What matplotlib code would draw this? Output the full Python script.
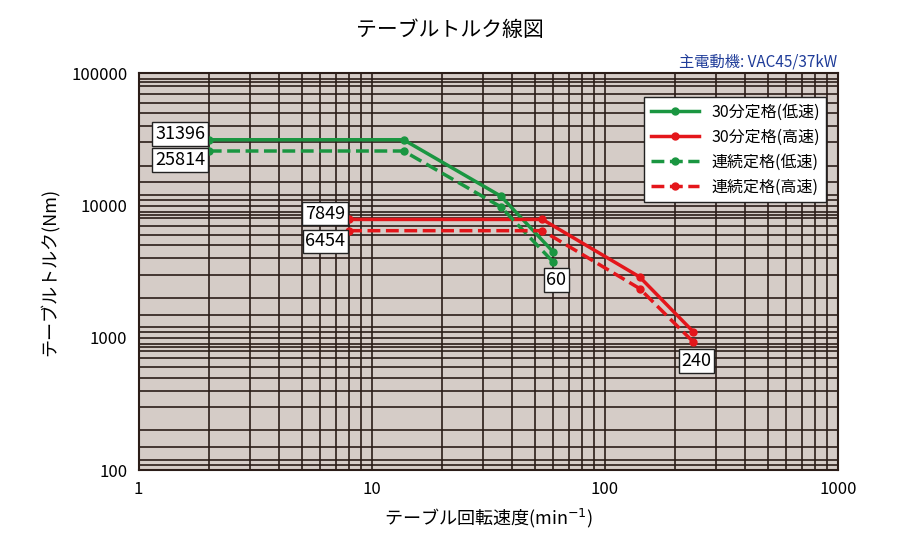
import matplotlib.pyplot as plt
from matplotlib.ticker import LogLocator, FixedLocator, NullFormatter

plt.rcParams['font.family'] = 'Noto Sans CJK JP'

# 低速
low_x = [2, 13.7, 35.8, 60]
low_30 = [31396, 31396, 11780, 4470]
low_cont = [25814, 25814, 9770, 3750]
# 高速
high_x = [8, 54, 141, 240]
high_30 = [7849, 7849, 2890, 1110]
high_cont = [6454, 6454, 2360, 930]

green = '#1a9641'
red = '#e4161b'

fig = plt.figure(figsize=(9, 5.5), dpi=100)
ax = fig.add_axes([0.154, 0.145, 0.777, 0.722])
ax.set_facecolor('#d5ccc7')
ax.set_xscale('log')
ax.set_yscale('log')
ax.set_xlim(1, 1000)
ax.set_ylim(100, 100000)

ax.xaxis.set_minor_locator(LogLocator(base=10, subs=range(2, 10)))
ax.yaxis.set_minor_locator(LogLocator(base=10, subs=[1.1, 1.2, 1.5, 2, 3, 4, 5, 6, 7, 8, 8.5, 9]))
ax.xaxis.set_minor_formatter(NullFormatter())
ax.yaxis.set_minor_formatter(NullFormatter())
ax.grid(True, which='both', color='#2b1d18', lw=1.2)
ax.set_axisbelow(True)
ax.tick_params(which='both', length=0, labelsize=12, pad=8)
ax.xaxis.set_major_locator(FixedLocator([1, 10, 100, 1000]))
ax.yaxis.set_major_locator(FixedLocator([100, 1000, 10000, 100000]))
ax.set_xticklabels(['1', '10', '100', '1000'])
ax.set_yticklabels(['100', '1000', '10000', '100000'])
for s in ax.spines.values():
    s.set_color('#2b1d18')
    s.set_linewidth(1.5)

ax.plot(low_x, low_30, '-o', color=green, lw=2.5, ms=5, label='30分定格(低速)')
ax.plot(high_x, high_30, '-o', color=red, lw=2.5, ms=5, label='30分定格(高速)')
ax.plot(low_x, low_cont, '--o', color=green, lw=2.5, ms=5, label='連続定格(低速)')
ax.plot(high_x, high_cont, '--o', color=red, lw=2.5, ms=5, label='連続定格(高速)')

box = dict(boxstyle='square,pad=0.15', fc='white', ec='#222222', lw=1)
ax.text(1.93, 34700, str(low_30[0]), ha='right', va='center', fontsize=13, bbox=box)
ax.text(1.93, 22000, str(low_cont[0]), ha='right', va='center', fontsize=13, bbox=box)
ax.text(7.7, 8700, str(high_30[0]), ha='right', va='center', fontsize=13, bbox=box)
ax.text(7.7, 5350, str(high_cont[0]), ha='right', va='center', fontsize=13, bbox=box)
ax.text(62, 2730, str(low_x[-1]), ha='center', va='center', fontsize=13, bbox=box)
ax.text(248, 667, str(high_x[-1]), ha='center', va='center', fontsize=13, bbox=box)

leg = ax.legend(loc='upper right', bbox_to_anchor=(0.995, 0.96), fontsize=11.5,
                fancybox=False, edgecolor='#222222', framealpha=1, handlelength=3)

fig.text(0.5, 0.945, 'テーブルトルク線図', ha='center', va='center', fontsize=15)
fig.text(0.93, 0.888, '主電動機: VAC45/37kW', ha='right', va='center', fontsize=11, color='#1f3c99')
ax.set_xlabel('テーブル回転速度(min$^{-1}$)', fontsize=13, labelpad=6)
ax.set_ylabel('テーブルトルク(Nm)', fontsize=13, labelpad=8)

fig.savefig('out.png')
